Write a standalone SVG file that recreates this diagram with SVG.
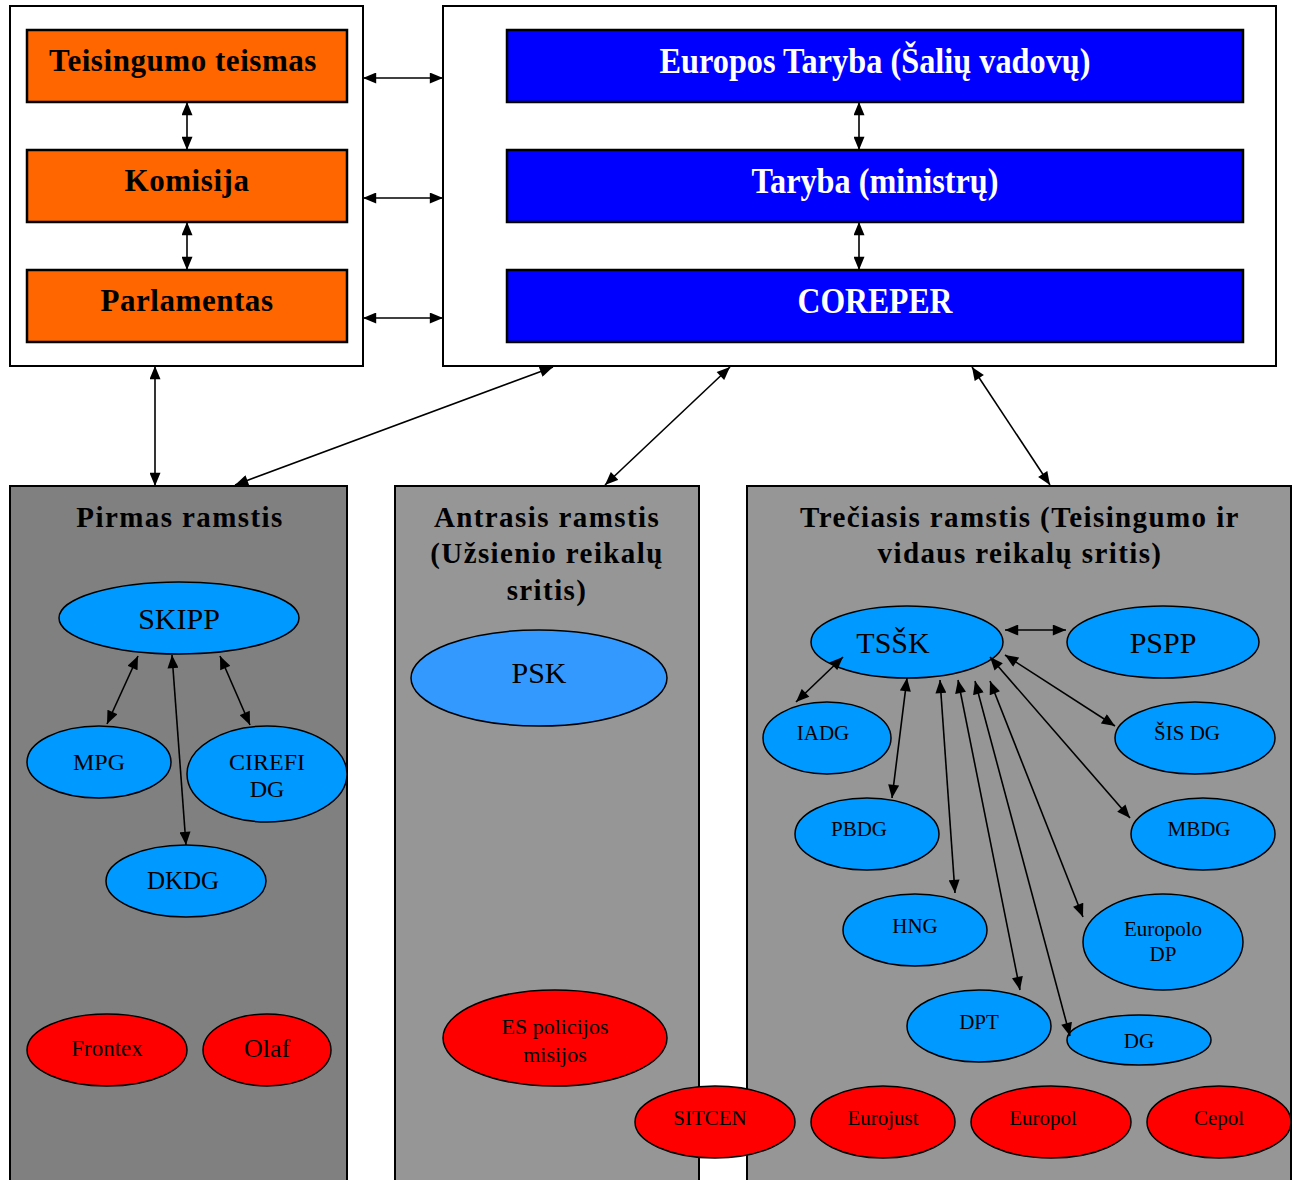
<svg xmlns="http://www.w3.org/2000/svg" width="1296" height="1180" viewBox="0 0 1296 1180">
<defs>
<marker id="a" viewBox="0 0 12 10" refX="12" refY="5" markerWidth="14" markerHeight="11" markerUnits="userSpaceOnUse" orient="auto-start-reverse"><path d="M0,0 L12,5 L0,10 z" fill="#000"/></marker>
</defs>
<style>
.frame{fill:#fff;stroke:#000;stroke-width:2}
.or{fill:#FF6600;stroke:#000;stroke-width:2.5}
.bl{fill:#0000FF;stroke:#000;stroke-width:2.5}
.p1{fill:#808080;stroke:#000;stroke-width:2}
.p2{fill:#969696;stroke:#000;stroke-width:2}
.eb{fill:#0099FF;stroke:#000;stroke-width:1.5}
.ep{fill:#3399FF;stroke:#000;stroke-width:1.5}
.er{fill:#FF0000;stroke:#000;stroke-width:1.5}
.bt{font-family:"Liberation Serif",serif;font-weight:bold;font-size:31px;fill:#000;text-anchor:middle;letter-spacing:0.55px}
.wt{font-family:"Liberation Serif",serif;font-weight:bold;font-size:36px;fill:#fff;text-anchor:middle}
.tt{font-family:"Liberation Serif",serif;font-weight:bold;font-size:29px;fill:#000;text-anchor:middle;letter-spacing:1.4px}
.l{font-family:"Liberation Serif",serif;fill:#000;text-anchor:middle}
.c line{stroke:#000;stroke-width:1.6;marker-start:url(#a);marker-end:url(#a)}
</style>

<g id="left-frame">
<rect class="frame" x="10" y="6" width="353" height="360"/>
</g>
<g id="teisingumo-teismas"><rect class="or" x="27" y="30" width="320" height="72"/><text class="bt" x="183" y="71">Teisingumo teismas</text></g>
<g id="komisija"><rect class="or" x="27" y="150" width="320" height="72"/><text class="bt" x="187" y="191">Komisija</text></g>
<g id="parlamentas"><rect class="or" x="27" y="270" width="320" height="72"/><text class="bt" x="187" y="311">Parlamentas</text></g>

<g id="right-frame">
<rect class="frame" x="443" y="6" width="833" height="360"/>
</g>
<g id="europos-taryba"><rect class="bl" x="507" y="30" width="736" height="72"/><text class="wt" x="875" y="73" textLength="431" lengthAdjust="spacingAndGlyphs">Europos Taryba (Šalių vadovų)</text></g>
<g id="taryba"><rect class="bl" x="507" y="150" width="736" height="72"/><text class="wt" x="875" y="193" textLength="247" lengthAdjust="spacingAndGlyphs">Taryba (ministrų)</text></g>
<g id="coreper"><rect class="bl" x="507" y="270" width="736" height="72"/><text class="wt" x="875" y="313" textLength="155" lengthAdjust="spacingAndGlyphs">COREPER</text></g>

<g id="pirmas-ramstis">
<rect class="p1" x="10" y="486" width="337" height="720"/>
<text class="tt" x="180" y="527">Pirmas ramstis</text>
</g>
<g id="antrasis-ramstis">
<rect class="p2" x="395" y="486" width="304" height="720"/>
<text class="tt" x="547" y="527">Antrasis ramstis</text>
<text class="tt" x="547" y="563">(Užsienio reikalų</text>
<text class="tt" x="547" y="600">sritis)</text>
</g>
<g id="treciasis-ramstis">
<rect class="p2" x="747" y="486" width="544" height="720"/>
<text class="tt" x="1020" y="527">Trečiasis ramstis (Teisingumo ir</text>
<text class="tt" x="1020" y="563">vidaus reikalų sritis)</text>
</g>

<g id="skipp"><ellipse class="eb" cx="179" cy="618" rx="120" ry="36"/><text class="l" x="179" y="629" font-size="30">SKIPP</text></g>
<g id="mpg"><ellipse class="eb" cx="99" cy="762" rx="72" ry="36"/><text class="l" x="99" y="770" font-size="24">MPG</text></g>
<g id="cirefi-dg"><ellipse class="eb" cx="267" cy="774" rx="80" ry="48"/><text class="l" x="267" y="770" font-size="24">CIREFI</text><text class="l" x="267" y="797" font-size="24">DG</text></g>
<g id="dkdg"><ellipse class="eb" cx="186" cy="881" rx="80" ry="36"/><text class="l" x="183" y="889" font-size="25">DKDG</text></g>
<g id="frontex"><ellipse class="er" cx="107" cy="1050" rx="80" ry="36"/><text class="l" x="107" y="1056" font-size="23">Frontex</text></g>
<g id="olaf"><ellipse class="er" cx="267" cy="1050" rx="64" ry="36"/><text class="l" x="267" y="1057" font-size="26">Olaf</text></g>

<g id="psk"><ellipse class="ep" cx="539" cy="678" rx="128" ry="48"/><text class="l" x="539" y="683" font-size="30">PSK</text></g>
<g id="es-policijos-misijos"><ellipse class="er" cx="555" cy="1038" rx="112" ry="48"/><text class="l" x="555" y="1034" font-size="22">ES policijos</text><text class="l" x="555" y="1062" font-size="22">misijos</text></g>

<g id="tssk"><ellipse class="eb" cx="907" cy="642" rx="96" ry="36"/><text class="l" x="893" y="653" font-size="30">TSŠK</text></g>
<g id="pspp"><ellipse class="eb" cx="1163" cy="642" rx="96" ry="36"/><text class="l" x="1163" y="653" font-size="30">PSPP</text></g>
<g id="iadg"><ellipse class="eb" cx="827" cy="738" rx="64" ry="36"/><text class="l" x="823" y="740" font-size="21">IADG</text></g>
<g id="sis-dg"><ellipse class="eb" cx="1195" cy="738" rx="80" ry="36"/><text class="l" x="1187" y="740" font-size="21">ŠIS DG</text></g>
<g id="pbdg"><ellipse class="eb" cx="867" cy="834" rx="72" ry="36"/><text class="l" x="859" y="836" font-size="21">PBDG</text></g>
<g id="mbdg"><ellipse class="eb" cx="1203" cy="834" rx="72" ry="36"/><text class="l" x="1199" y="836" font-size="21">MBDG</text></g>
<g id="hng"><ellipse class="eb" cx="915" cy="930" rx="72" ry="36"/><text class="l" x="915" y="933" font-size="21">HNG</text></g>
<g id="europolo-dp"><ellipse class="eb" cx="1163" cy="942" rx="80" ry="48"/><text class="l" x="1163" y="936" font-size="21">Europolo</text><text class="l" x="1163" y="961" font-size="21">DP</text></g>
<g id="dpt"><ellipse class="eb" cx="979" cy="1026" rx="72" ry="36"/><text class="l" x="979" y="1029" font-size="21">DPT</text></g>
<g id="dg"><ellipse class="eb" cx="1139" cy="1040" rx="72" ry="25"/><text class="l" x="1139" y="1048" font-size="21">DG</text></g>
<g id="eurojust"><ellipse class="er" cx="883" cy="1122" rx="72" ry="36"/><text class="l" x="883" y="1125" font-size="21">Eurojust</text></g>
<g id="europol"><ellipse class="er" cx="1051" cy="1122" rx="80" ry="36"/><text class="l" x="1043" y="1125" font-size="21">Europol</text></g>
<g id="cepol"><ellipse class="er" cx="1219" cy="1122" rx="72" ry="36"/><text class="l" x="1219" y="1125" font-size="21">Cepol</text></g>
<g id="sitcen"><ellipse class="er" cx="715" cy="1122" rx="80" ry="36"/><text class="l" x="710" y="1125" font-size="21">SITCEN</text></g>

<g id="connectors" class="c">
<line x1="187" y1="102" x2="187" y2="150"/>
<line x1="187" y1="222" x2="187" y2="270"/>
<line x1="859" y1="102" x2="859" y2="150"/>
<line x1="859" y1="222" x2="859" y2="270"/>
<line x1="363" y1="78" x2="443" y2="78"/>
<line x1="363" y1="198" x2="443" y2="198"/>
<line x1="363" y1="318" x2="443" y2="318"/>
<line x1="155" y1="366" x2="155" y2="486"/>
<line x1="553" y1="367" x2="235" y2="485"/>
<line x1="730" y1="367" x2="605" y2="485"/>
<line x1="972" y1="367" x2="1050" y2="485"/>
<line x1="138" y1="656" x2="107" y2="724"/>
<line x1="220" y1="656" x2="250" y2="725"/>
<line x1="172" y1="655" x2="186" y2="845"/>
<line x1="1005" y1="630" x2="1066" y2="630"/>
<line x1="843" y1="657" x2="796" y2="702"/>
<line x1="907" y1="678" x2="892" y2="798"/>
<line x1="940" y1="680" x2="955" y2="893"/>
<line x1="958" y1="680" x2="1020" y2="990"/>
<line x1="975" y1="681" x2="1070" y2="1036"/>
<line x1="990" y1="681" x2="1083" y2="917"/>
<line x1="990" y1="657" x2="1130" y2="818"/>
<line x1="1005" y1="655" x2="1115" y2="726"/>
</g>
</svg>
